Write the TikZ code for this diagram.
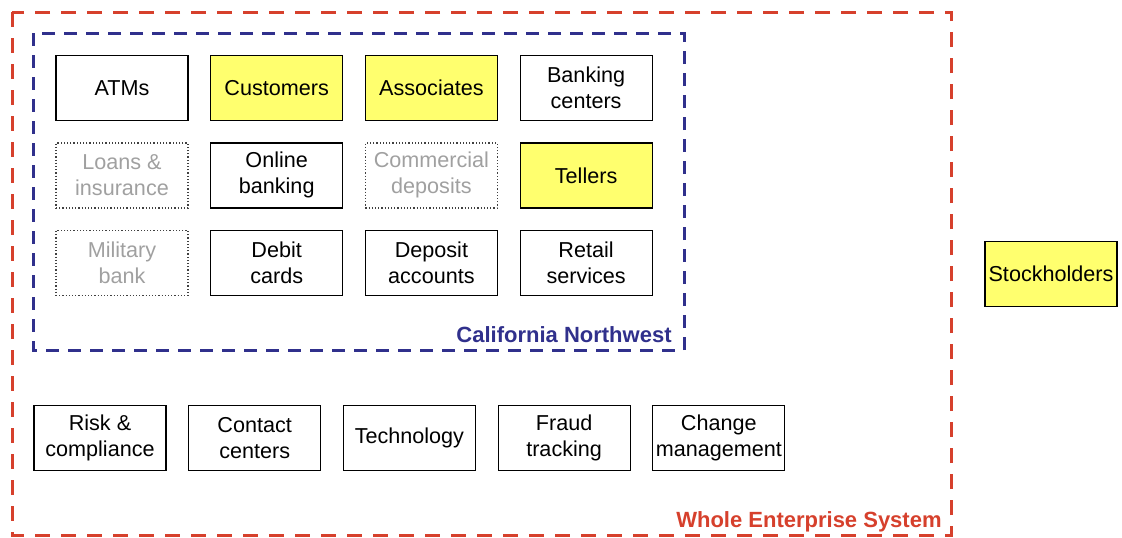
\documentclass[tikz,border=0pt]{standalone}
\usepackage{fontspec}
\setmainfont{Liberation Sans}
\usetikzlibrary{positioning}

\definecolor{wholered}{RGB}{214,64,44}
\definecolor{regionblue}{RGB}{48,48,140}
\definecolor{keyyellow}{RGB}{255,255,110}
\definecolor{faded}{RGB}{160,160,160}

\begin{document}
\begin{tikzpicture}[
  x=0.5pt,y=-0.5pt,
  node distance=10.6pt and 10.75pt,
  unit/.style={draw,line width=0.6pt,minimum width=66pt,minimum height=32.5pt,inner sep=1pt,align=center,font=\fontsize{10.8}{13}\selectfont},
  key/.style={unit,fill=keyyellow},
  dormant/.style={unit,densely dotted,draw=black!75,text=faded},
  wholebox/.style={draw=wholered,line width=1.5pt,dash pattern=on 7.5pt off 5.5pt},
  regionbox/.style={draw=regionblue,line width=1.5pt,dash pattern=on 6.5pt off 4.5pt},
  tag/.style={anchor=east,inner sep=0pt,font=\fontsize{11}{13}\selectfont\bfseries}
]
\useasboundingbox (0,0) rectangle (1122,537);

% enterprise and region frames
\draw[wholebox] (12,12) rectangle (951,535);
\draw[regionbox] (33,33) rectangle (684,350);
\node[tag,text=regionblue] (cnw) at (672,335) {California Northwest};
\node[tag,text=wholered] (wes) at (942,522) {Whole Enterprise System};

% California Northwest units
\node[unit] (atm) at (122,88) {ATMs};
\node[key,right=of atm] (cust) {Customers};
\node[key,right=of cust] (assoc) {Associates};
\node[unit,right=of assoc] (bank) {Banking\\centers};

\node[dormant,below=of atm] (loan) {Loans \&\\insurance};
\node[unit,right=of loan] (online) {Online\\banking};
\node[dormant,right=of online] (comm) {Commercial\\deposits};
\node[key,right=of comm] (tell) {Tellers};

\node[dormant,below=of loan] (mil) {Military\\bank};
\node[unit,right=of mil] (debit) {Debit\\cards};
\node[unit,right=of debit] (depo) {Deposit\\accounts};
\node[unit,right=of depo] (retail) {Retail\\services};

% enterprise-wide functions
\node[unit] (risk) at (100,438) {Risk \&\\compliance};
\node[unit,right=of risk] (contact) {Contact\\centers};
\node[unit,right=of contact] (tech) {Technology};
\node[unit,right=of tech] (fraud) {Fraud\\tracking};
\node[unit,right=of fraud] (change) {Change\\management};

% outside the enterprise
\node[key] (stock) at (1051,274) {Stockholders};
\end{tikzpicture}
\end{document}
